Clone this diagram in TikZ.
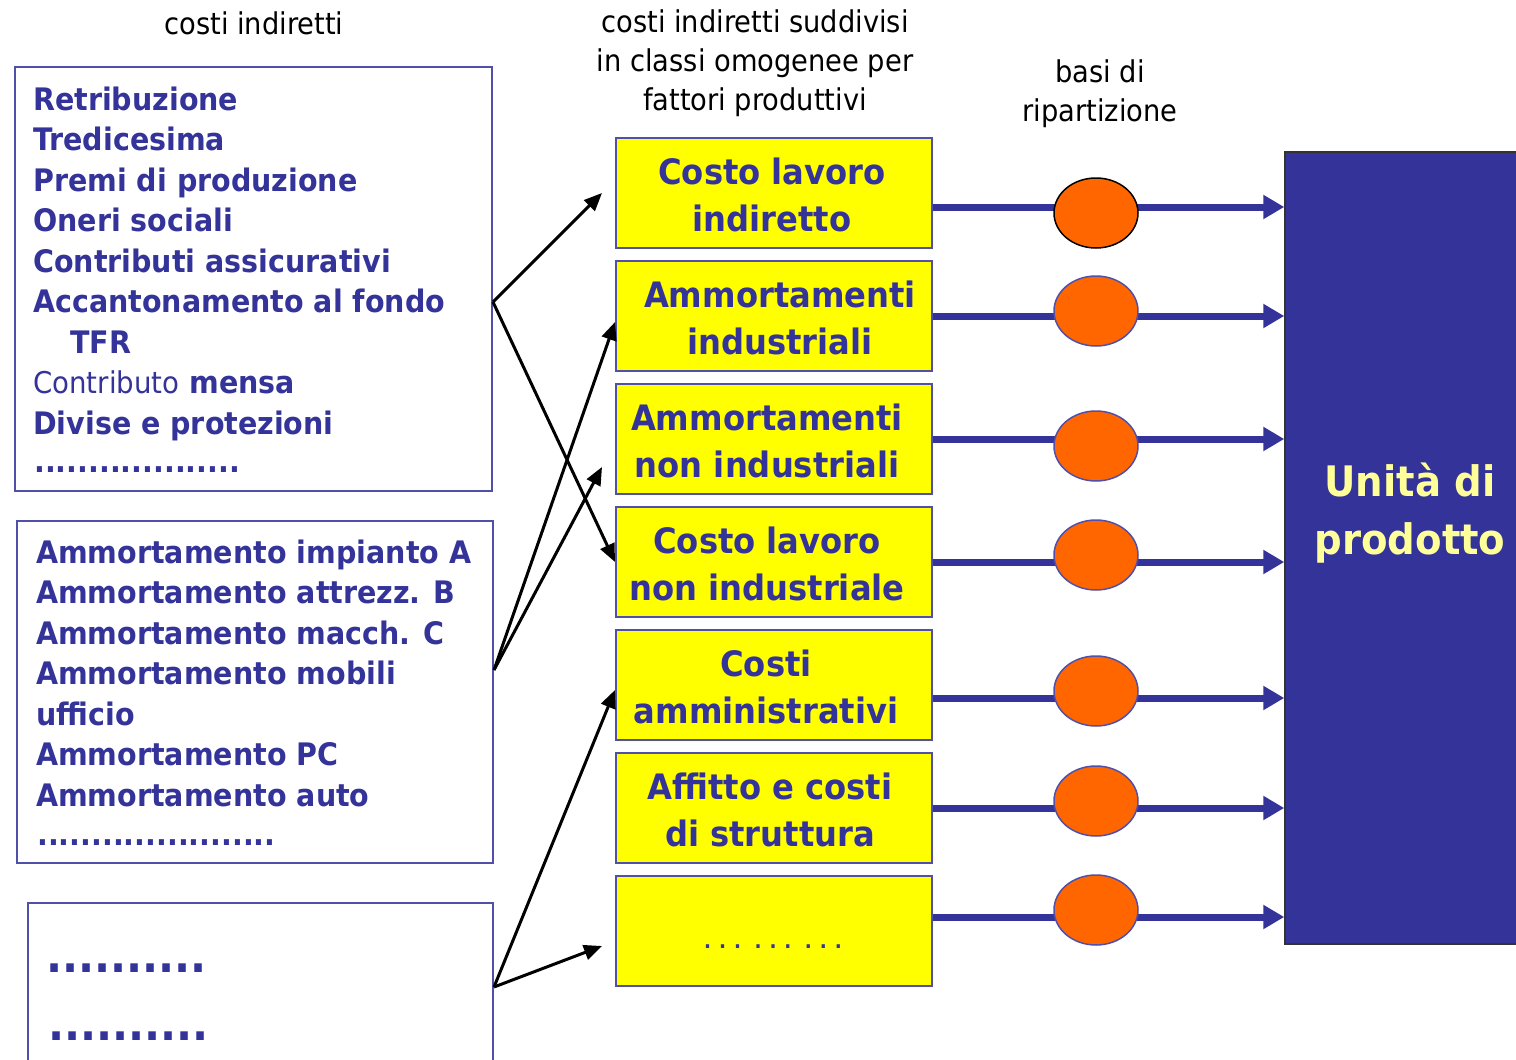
\documentclass[tikz,border=0pt]{standalone}
\usepackage{fontspec}
\setmainfont{DejaVu Sans}
\newfontfamily\vfam[FakeStretch=0.92]{DejaVu Sans}
\newfontfamily\hfam[FakeStretch=0.91]{DejaVu Sans}
\usetikzlibrary{arrows.meta,calc,shapes.geometric}
\definecolor{tblue}{HTML}{333399}
\definecolor{bord}{HTML}{5050AA}
\definecolor{yel}{HTML}{FFFF00}
\definecolor{ora}{HTML}{FF6600}
\definecolor{ltyel}{HTML}{FFFF99}
\tikzset{
  lbox/.style={draw=bord, line width=2pt, fill=white, inner sep=0pt},
  ybox/.style={draw=bord, line width=2pt, fill=yel, inner sep=0pt,
    minimum width=316pt, minimum height=110pt},
  ytext/.style={align=center, inner sep=0pt, text=tblue,
    font=\vfam\bfseries\fontsize{35}{47}\selectfont},
  item/.style={anchor=base west, inner sep=0pt, text=tblue,
    font=\vfam\bfseries\fontsize{31}{40}\selectfont},
  header/.style={align=center, inner sep=0pt, text=black,
    font=\hfam\fontsize{30}{39}\selectfont},
  basis/.style={ellipse, fill=ora, draw=bord, line width=1.5pt,
    minimum width=84pt, minimum height=70pt, inner sep=0pt},
  barrow/.style={draw=tblue, line width=7pt,
    -{Triangle[length=21pt,width=23pt]}},
  karrow/.style={draw=black, line width=3pt,
    -{Triangle[length=18pt,width=15pt]}}
}
\begin{document}
\begin{tikzpicture}[x=1pt,y=-1pt]
\useasboundingbox (0,0) rectangle (1516,1060);
% headers
\node[header] (h1) at (254,23) {costi indiretti};
\node[header] (h2) at (755,63) {costi indiretti suddivisi\\in classi omogenee per\\fattori produttivi};
\node[header] (h3) at (1100,94) {basi di\\ripartizione};
% left boxes
\node[lbox, minimum width=477pt, minimum height=424pt] (L1) at (253.5,279) {};
\node[lbox, minimum width=476pt, minimum height=342pt] (L2) at (255,692) {};
\node[lbox, minimum width=465pt, minimum height=200pt] (L3) at (260.5,1003) {};
% box 1 text
\node[item] (a1) at (33,110) {Retribuzione};
\node[item] (a2) at (33,150.5) {Tredicesima};
\node[item] (a3) at (33,191) {Premi di produzione};
\node[item] (a4) at (33,231.5) {Oneri sociali};
\node[item] (a5) at (33,272) {Contributi assicurativi};
\node[item] (a6) at (33,312.5) {Accantonamento al fondo};
\node[item] (a7) at (70,353) {TFR};
\node[item] (a8) at (33,393.5) {{\mdseries\fontsize{30}{35}\selectfont Contributo} mensa};
\node[item] (a9) at (33,434) {Divise e protezioni};
\node[item] (a10) at (34,472) {...................};
% box 2 text
\node[item] (b1) at (36,563) {Ammortamento impianto A};
\node[item] (b2) at (36,603.5) {Ammortamento attrezz. B};
\node[item] (b3) at (36,644) {Ammortamento macch. C};
\node[item] (b4) at (36,684.5) {Ammortamento mobili};
\node[item] (b5) at (36,725) {ufficio};
\node[item] (b6) at (36,765.5) {Ammortamento PC};
\node[item] (b7) at (36,806) {Ammortamento auto};
\node[item] (b8) at (37,845) {......................};
% box 3 text
\node[item, font=\vfam\bfseries\fontsize{46}{50}\selectfont] (c1) at (46,972) {..........};
\node[item, font=\vfam\bfseries\fontsize{46}{50}\selectfont] (c2) at (48,1040) {..........};
% yellow boxes
\node[ybox] (Y1) at (774,193) {};
\node[ybox] (Y2) at (774,316) {};
\node[ybox] (Y3) at (774,439) {};
\node[ybox] (Y4) at (774,562) {};
\node[ybox] (Y5) at (774,685) {};
\node[ybox] (Y6) at (774,808) {};
\node[ybox] (Y7) at (774,931) {};
\node[ytext] (t1) at (772,195) {Costo lavoro\\indiretto};
\node[ytext] (t2) at (780,318) {Ammortamenti\\industriali};
\node[ytext] (t3) at (767,441) {Ammortamenti\\non industriali};
\node[ytext] (t4) at (767,564) {Costo lavoro\\non industriale};
\node[ytext] (t5) at (766,687) {Costi\\amministrativi};
\node[ytext] (t6) at (770,810) {Affitto e costi\\di struttura};
\node[anchor=base, inner sep=0pt, text=tblue, font=\vfam\bfseries\fontsize{20}{22}\selectfont] (t7) at (773,948)
  {.\hspace{8pt}.\hspace{8pt}.\hspace{13.5pt}.\hspace{8pt}.\hspace{8pt}.\hspace{13.5pt}.\hspace{8pt}.\hspace{8pt}.};
% product unit
\node[draw=black!80, line width=1.5pt, fill=tblue, minimum width=250pt, minimum height=792pt, inner sep=0pt] (U) at (1410,548) {};
\node[align=center, inner sep=0pt, text=ltyel, font=\vfam\bfseries\fontsize{42}{58}\selectfont] (ut) at (1410,513) {Unità di\\prodotto};
% blue arrows
\draw[barrow] (Y1.east |- 0,207) -- (U.west |- 0,207);
\draw[barrow] (Y2.east |- 0,316) -- (U.west |- 0,316);
\draw[barrow] (Y3.east |- 0,439) -- (U.west |- 0,439);
\draw[barrow] (Y4.east |- 0,562) -- (U.west |- 0,562);
\draw[barrow] (Y5.east |- 0,698) -- (U.west |- 0,698);
\draw[barrow] (Y6.east |- 0,808) -- (U.west |- 0,808);
\draw[barrow] (Y7.east |- 0,917) -- (U.west |- 0,917);
% bases
\node[basis, draw=black] (E1) at (1096,213) {};
\node[basis] (E2) at (1096,311) {};
\node[basis] (E3) at (1096,446) {};
\node[basis] (E4) at (1096,555) {};
\node[basis] (E5) at (1096,691) {};
\node[basis] (E6) at (1096,801) {};
\node[basis] (E7) at (1096,910) {};
% black arrows
\draw[karrow] (L1.east |- 0,302) -- ($(Y1.west)+(-13,0)$);
\draw[karrow] (L1.east |- 0,302) -- (Y4.west);
\draw[karrow] (L2.east |- 0,670) -- (Y2.west |- 0,322);
\draw[karrow] (L2.east |- 0,670) -- ($(Y3.west)+(-13,28)$);
\draw[karrow] (L3.east |- 0,987) -- (Y5.west |- 0,690);
\draw[karrow] (L3.east |- 0,987) -- ($(Y7.west)+(-13,15)$);
\end{tikzpicture}
\end{document}
